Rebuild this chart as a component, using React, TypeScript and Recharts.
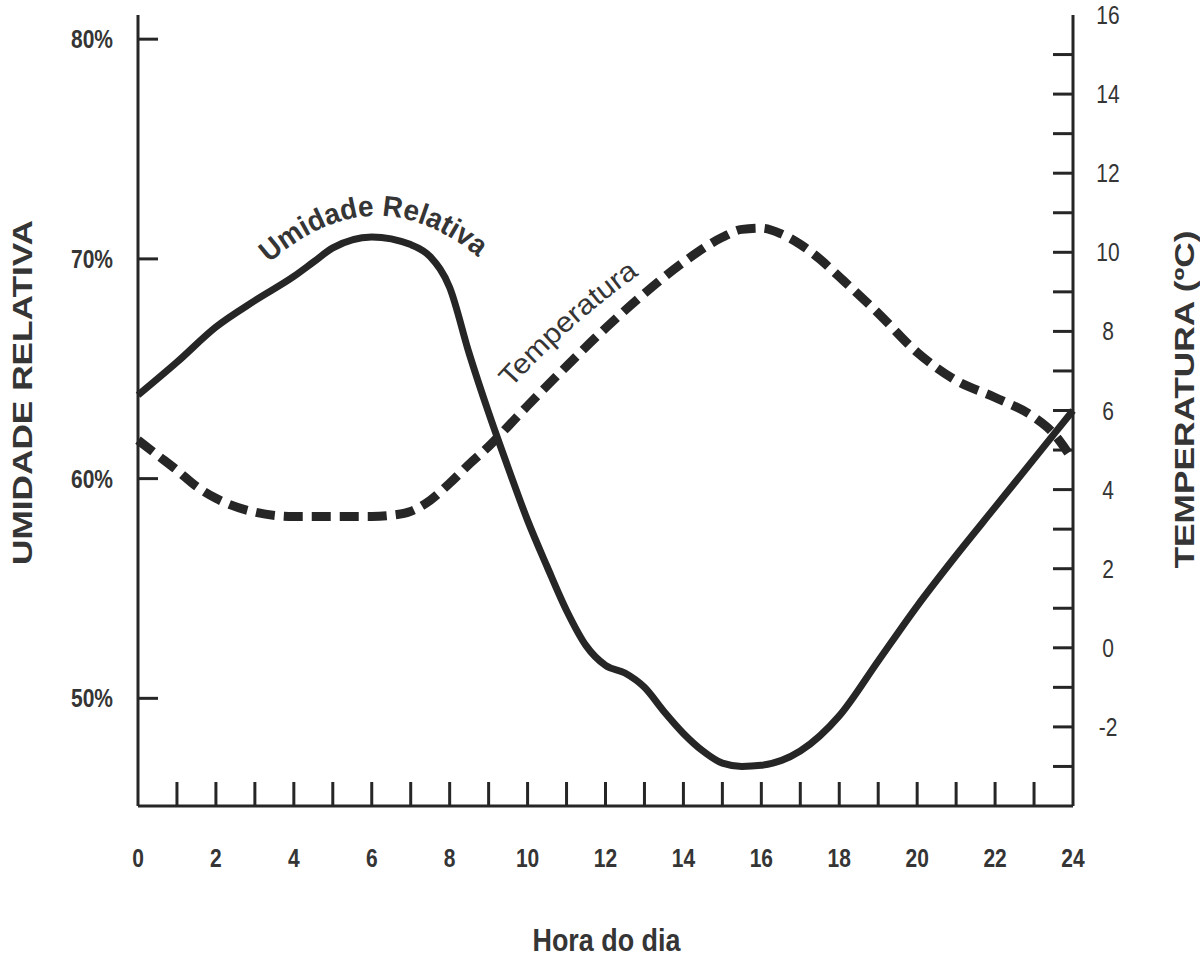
import React from "react";
import {
  LineChart,
  Line,
  XAxis,
  YAxis,
  ReferenceDot,
} from "recharts";

// hour of day -> relative humidity (%)
const HUMIDITY_HOURS = [
  0, 1, 2, 3, 4, 4.5, 5, 6, 7, 7.5, 8, 8.5, 9, 9.5, 10, 10.5, 11, 11.5, 12,
  12.5, 13, 13.5, 14, 14.5, 15, 15.5, 16, 17, 18, 19, 20, 21, 22, 23, 24,
];
const HUMIDITY_VALUES = [
  63.8, 65.3, 66.9, 68.1, 69.2, 69.85, 70.5, 71.0, 70.65, 70.1, 68.7, 65.7,
  63.0, 60.5, 58.1, 56.0, 54.0, 52.4, 51.5, 51.15, 50.5, 49.4, 48.4, 47.6,
  47.05, 46.9, 46.95, 47.6, 49.2, 51.7, 54.2, 56.5, 58.7, 60.9, 63.1,
];

// hour of day -> temperature (ºC)
const TEMP_HOURS = [
  0, 0.5, 1, 1.5, 2, 3, 4, 5, 6, 6.5, 7, 7.5, 8, 8.5, 9, 9.5, 10, 11, 12, 13,
  14, 15, 15.5, 16, 16.5, 17, 17.5, 18, 19, 20, 21, 22, 23, 23.5, 24,
];
const TEMP_VALUES = [
  5.25, 4.87, 4.49, 4.08, 3.78, 3.43, 3.32, 3.32, 3.32, 3.35, 3.45, 3.73,
  4.16, 4.64, 5.09, 5.6, 6.12, 7.12, 8.08, 8.96, 9.75, 10.38, 10.58, 10.61,
  10.47, 10.2, 9.83, 9.38, 8.46, 7.47, 6.76, 6.33, 5.83, 5.42, 4.74,
];

const X_TICKS = Array.from({ length: 25 }, (_, i) => i);
const LEFT_TICKS = [50, 60, 70, 80];
const RIGHT_TICKS = Array.from({ length: 20 }, (_, i) => i - 3); // -3 .. 16

const humidityData = HUMIDITY_HOURS.map((h, i) => ({
  hora: h,
  umidade: HUMIDITY_VALUES[i],
}));
const tempData = TEMP_HOURS.map((h, i) => ({
  hora: h,
  temperatura: TEMP_VALUES[i],
}));

const INK = "#262626";
const TEXT = "#353535";
const FONT = "'Liberation Sans', Arial, sans-serif";

// the original uses a condensed face, so squeeze the text a little
const NarrowText = ({ x, y, anchor, bold, children }: any) => (
  <g transform={`translate(${x}, ${y}) scale(0.84, 1)`}>
    <text
      x={0}
      y={0}
      textAnchor={anchor}
      fill={TEXT}
      fontSize={25}
      fontWeight={bold ? "bold" : "normal"}
      fontFamily={FONT}
    >
      {children}
    </text>
  </g>
);

const BottomTick = (props: any) => {
  const { x, y, payload } = props;
  const h = payload.value;
  return (
    <g>
      {h > 0 && h < 24 && (
        <line x1={x} x2={x} y1={y} y2={y - 24} stroke={INK} strokeWidth={3} />
      )}
      {h % 2 === 0 && (
        <NarrowText x={x} y={y + 61} anchor="middle" bold>
          {h}
        </NarrowText>
      )}
    </g>
  );
};

const LeftTick = (props: any) => {
  const { x, y, payload } = props;
  return (
    <g>
      <line x1={x} x2={x + 20} y1={y} y2={y} stroke={INK} strokeWidth={3} />
      <NarrowText x={x - 25} y={y + 9} anchor="end" bold>
        {`${payload.value}%`}
      </NarrowText>
    </g>
  );
};

const RightTick = (props: any) => {
  const { x, y, payload } = props;
  const v = payload.value;
  return (
    <g>
      {v < 16 && (
        <line x1={x - 20} x2={x} y1={y} y2={y} stroke={INK} strokeWidth={3} />
      )}
      {v % 2 === 0 && (
        <NarrowText x={x + 35} y={y + 9} anchor="middle">
          {v}
        </NarrowText>
      )}
    </g>
  );
};

const centerOf = (props: any) => {
  const vb = props.viewBox || {};
  return {
    cx: (vb.x ?? 0) + (vb.width ?? 0) / 2,
    cy: (vb.y ?? 0) + (vb.height ?? 0) / 2,
  };
};

const UmidadeLabel = (props: any) => {
  const { cx, cy } = centerOf(props);
  return (
    <g>
      <defs>
        <path
          id="arc-umidade"
          d={`M ${cx - 108} ${cy + 31} Q ${cx + 2} ${cy - 70} ${cx + 112} ${cy + 25}`}
          fill="none"
        />
      </defs>
      <text fill={TEXT} fontSize={29} fontWeight="bold" fontFamily={FONT}>
        <textPath
          href="#arc-umidade"
          startOffset="50%"
          textAnchor="middle"
          textLength={232}
          lengthAdjust="spacingAndGlyphs"
        >
          Umidade Relativa
        </textPath>
      </text>
    </g>
  );
};

const TemperaturaLabel = (props: any) => {
  const { cx, cy } = centerOf(props);
  return (
    <g>
      <defs>
        <path
          id="arc-temperatura"
          d={`M ${cx - 58} ${cy + 25} Q ${cx + 2} ${cy - 42} ${cx + 76} ${cy - 94}`}
          fill="none"
        />
      </defs>
      <text fill={TEXT} fontSize={28} fontFamily={FONT}>
        <textPath
          href="#arc-temperatura"
          startOffset="50%"
          textAnchor="middle"
          textLength={172}
          lengthAdjust="spacingAndGlyphs"
        >
          Temperatura
        </textPath>
      </text>
    </g>
  );
};

const LeftTitle = (props: any) => {
  const vb = props.viewBox || {};
  const x = 32;
  const y = vb.y + vb.height / 2 - 18;
  return (
    <text
      x={x}
      y={y}
      transform={`rotate(-90, ${x}, ${y})`}
      textAnchor="middle"
      fill={TEXT}
      fontSize={28}
      fontWeight="bold"
      fontFamily={FONT}
      textLength={345}
      lengthAdjust="spacingAndGlyphs"
    >
      UMIDADE RELATIVA
    </text>
  );
};

const RightTitle = (props: any) => {
  const vb = props.viewBox || {};
  const x = 1194;
  const y = vb.y + vb.height / 2 - 11;
  return (
    <text
      x={x}
      y={y}
      transform={`rotate(-90, ${x}, ${y})`}
      textAnchor="middle"
      fill={TEXT}
      fontSize={28}
      fontWeight="bold"
      fontFamily={FONT}
      textLength={338}
      lengthAdjust="spacingAndGlyphs"
    >
      TEMPERATURA (ºC)
    </text>
  );
};

const BottomTitle = (props: any) => {
  const vb = props.viewBox || {};
  const x = vb.x + vb.width / 2 + 1;
  return (
    <text
      x={x}
      y={951}
      textAnchor="middle"
      fill={TEXT}
      fontSize={32}
      fontWeight="bold"
      fontFamily={FONT}
      textLength={148}
      lengthAdjust="spacingAndGlyphs"
    >
      Hora do dia
    </text>
  );
};

export default function App() {
  return (
    <div
      style={{
        position: "absolute",
        left: 0,
        top: 0,
        width: 1200,
        height: 961,
        background: "#fff",
      }}
    >
      <LineChart
        width={1200}
        height={961}
        margin={{ top: 15, right: 0, bottom: 0, left: 0 }}
      >
        <XAxis
          dataKey="hora"
          type="number"
          domain={[0, 24]}
          ticks={X_TICKS}
          interval={0}
          height={155}
          tickSize={0}
          tickMargin={0}
          tickLine={false}
          axisLine={{ stroke: INK, strokeWidth: 3 }}
          tick={<BottomTick />}
          allowDuplicatedCategory={false}
          label={{ content: <BottomTitle /> }}
        />
        <XAxis
          xAxisId="top"
          orientation="top"
          type="number"
          domain={[0, 24]}
          height={0}
          tick={false}
          tickLine={false}
          axisLine={{ stroke: INK, strokeWidth: 3 }}
        />
        <YAxis
          yAxisId="left"
          type="number"
          domain={[45.1, 81.1]}
          ticks={LEFT_TICKS}
          interval={0}
          width={138}
          tickSize={0}
          tickMargin={0}
          tickLine={false}
          axisLine={{ stroke: INK, strokeWidth: 3 }}
          tick={<LeftTick />}
          allowDataOverflow
          label={{ content: <LeftTitle /> }}
        />
        <YAxis
          yAxisId="right"
          orientation="right"
          type="number"
          domain={[-4, 16]}
          ticks={RIGHT_TICKS}
          interval={0}
          width={127}
          tickSize={0}
          tickMargin={0}
          tickLine={false}
          axisLine={{ stroke: INK, strokeWidth: 3 }}
          tick={<RightTick />}
          allowDataOverflow
          label={{ content: <RightTitle /> }}
        />
        <Line
          yAxisId="right"
          data={tempData}
          dataKey="temperatura"
          type="monotone"
          stroke={INK}
          strokeWidth={9}
          strokeDasharray="19 9"
          dot={false}
          activeDot={false}
          isAnimationActive={false}
        />
        <Line
          yAxisId="left"
          data={humidityData}
          dataKey="umidade"
          type="monotone"
          stroke={INK}
          strokeWidth={7}
          dot={false}
          activeDot={false}
          isAnimationActive={false}
        />
        <ReferenceDot
          yAxisId="left"
          x={6}
          y={71}
          r={1}
          fill="none"
          stroke="none"
          label={{ content: <UmidadeLabel /> }}
        />
        <ReferenceDot
          yAxisId="right"
          x={11}
          y={7.12}
          r={1}
          fill="none"
          stroke="none"
          label={{ content: <TemperaturaLabel /> }}
        />
      </LineChart>
    </div>
  );
}
